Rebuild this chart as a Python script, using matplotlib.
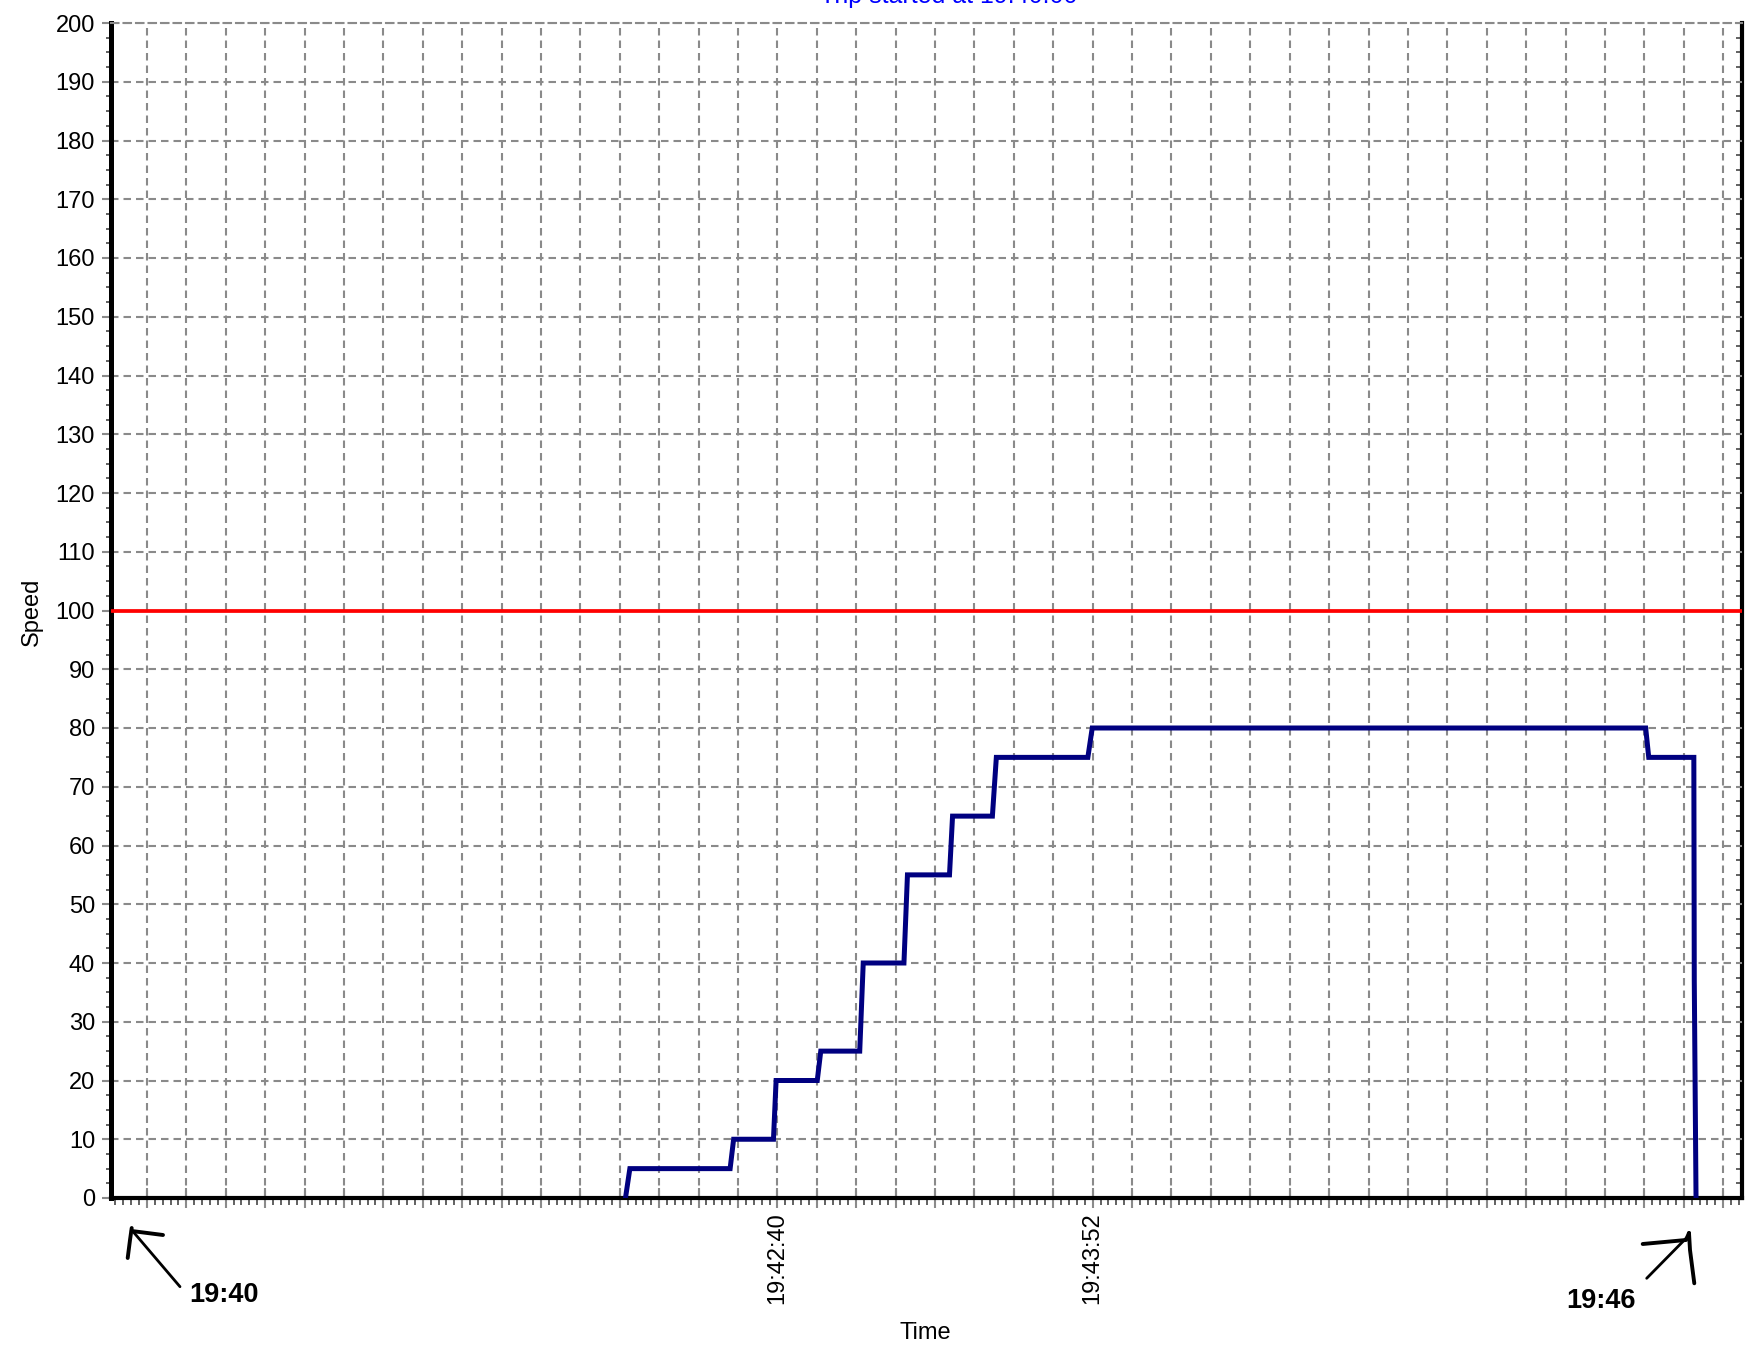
import matplotlib
matplotlib.use("Agg")
import matplotlib.pyplot as plt
from matplotlib.ticker import FixedLocator, FuncFormatter, MultipleLocator, AutoMinorLocator
from matplotlib.lines import Line2D
import numpy as np

plt.rcParams['font.family'] = ['Liberation Sans', 'DejaVu Sans']
plt.rcParams['lines.scale_dashes'] = False

# ---- data (seconds after 19:40:00, speed) ----
time_s = [125.3, 126.3, 149.2, 150.0, 159.1, 159.7, 169.1, 169.9, 178.8, 179.6,
          188.9, 189.7, 199.3, 200.0, 209.1, 210.0, 230.9, 231.9, 358.3, 359.0,
          369.3, 369.4, 369.8]
speed = [0, 5, 5, 10, 10, 20, 20, 25, 25, 40,
         40, 55, 55, 65, 65, 75, 75, 80, 80, 75,
         75, 37, 0]
speed_limit = 100
labeled_ticks_s = [160, 232]
tick_labels = ['19:42:40', '19:43:52']
title_text = 'Trip started at 19:40:00'
start_label = '19:40'
end_label = '19:46'

W, H = 1752, 1350
fig = plt.figure(figsize=(W / 100, H / 100), dpi=100)
fig.patch.set_facecolor('white')

L, R, T, B = 111, 1742, 23, 1198
ax = fig.add_axes([L / W, 1 - B / H, (R - L) / W, (B - T) / H])
ax.set_xlim(7.8, 380.3)
ax.set_ylim(0, 200)

grey = '#8a8a8a'
dash = (0, (5.4, 3.6))

# grid
ax.xaxis.set_major_locator(FixedLocator(np.arange(16, 381, 9)))
ax.xaxis.set_minor_locator(AutoMinorLocator(5))
ax.yaxis.set_major_locator(MultipleLocator(10))
ax.yaxis.set_minor_locator(MultipleLocator(2.5))
ax.grid(True, which='major', color=grey, linewidth=1.5, linestyle=dash)
ax.set_axisbelow(True)

lab = dict(zip(labeled_ticks_s, tick_labels))
ax.xaxis.set_major_formatter(FuncFormatter(lambda v, p: lab.get(int(round(v)), '') if abs(v - round(v)) < 1e-6 else ''))
ax.yaxis.set_major_formatter(FuncFormatter(lambda v, p: f'{int(v)}'))

ax.tick_params(axis='x', which='major', direction='inout', length=14, width=1.5, color=grey,
               labelsize=17, labelrotation=90, pad=3)
ax.tick_params(axis='x', which='minor', direction='out', length=5, width=1.3, color='#555555')
ax.tick_params(axis='y', which='major', direction='out', length=6.5, width=1.5, color=grey,
               labelsize=17, pad=5)
ax.tick_params(axis='y', which='minor', direction='out', length=3.8, width=1.3, color='#555555')
for lbl in ax.get_xticklabels():
    lbl.set_va('top')

# spines
ax.spines['left'].set_linewidth(3.6)
ax.spines['bottom'].set_linewidth(3.0)
ax.spines['right'].set_visible(False)
ax.spines['top'].set_linestyle(dash)
ax.spines['top'].set_color(grey)
ax.spines['top'].set_linewidth(1.5)

sec = ax.secondary_yaxis('right')
sec.yaxis.set_major_locator(MultipleLocator(2.5))
sec.tick_params(axis='y', which='both', direction='in', length=4, width=1.3, color='#555555',
                labelright=False)
sec.yaxis.set_minor_locator(MultipleLocator(100))
sec.spines['right'].set_linewidth(3.0)

# data lines
ax.axhline(speed_limit, color='#ff0000', linewidth=2.7, zorder=3)
ax.plot(time_s, speed, color='#000080', linewidth=3.6, solid_joinstyle='miter', zorder=4)

# labels
ax.set_xlabel('Time', fontsize=17)
ax.xaxis.set_label_coords((925 - L) / (R - L), (B - 1322) / (B - T))
ax.set_ylabel('Speed', fontsize=17)
ax.yaxis.set_label_coords((43 - L) / (R - L), (B - 612) / (B - T))

# title (cut off at top, as in the reference)
fig.text(949 / W, 1 - 3 / H, title_text, color='#0000ff', fontsize=18,
         ha='center', va='baseline')

# hand-drawn annotations
def px(x, y):
    return x / W, 1 - y / H

def stroke(pts, lw=2.4):
    xs, ys = zip(*[px(a, b) for a, b in pts])
    fig.add_artist(Line2D(xs, ys, color='black', linewidth=lw, transform=fig.transFigure,
                          solid_capstyle='round'))

stroke([(180, 1286.7), (131.7, 1230)], 2.0)
stroke([(131.7, 1231), (163, 1235)], 2.8)
stroke([(131.7, 1228), (130, 1240), (127.7, 1258)], 2.8)
stroke([(1646.7, 1278.3), (1689.3, 1235)], 2.0)
stroke([(1642.7, 1244), (1686, 1240), (1689, 1233)], 2.8)
stroke([(1689, 1233), (1690, 1250), (1694.3, 1283.3)], 2.8)

fig.text(*px(189, 1302), start_label, fontsize=19.5, fontweight='bold', ha='left', va='baseline')
fig.text(*px(1566, 1308), end_label, fontsize=19.5, fontweight='bold', ha='left', va='baseline')

fig.savefig('out.png', dpi=100, facecolor='white')
